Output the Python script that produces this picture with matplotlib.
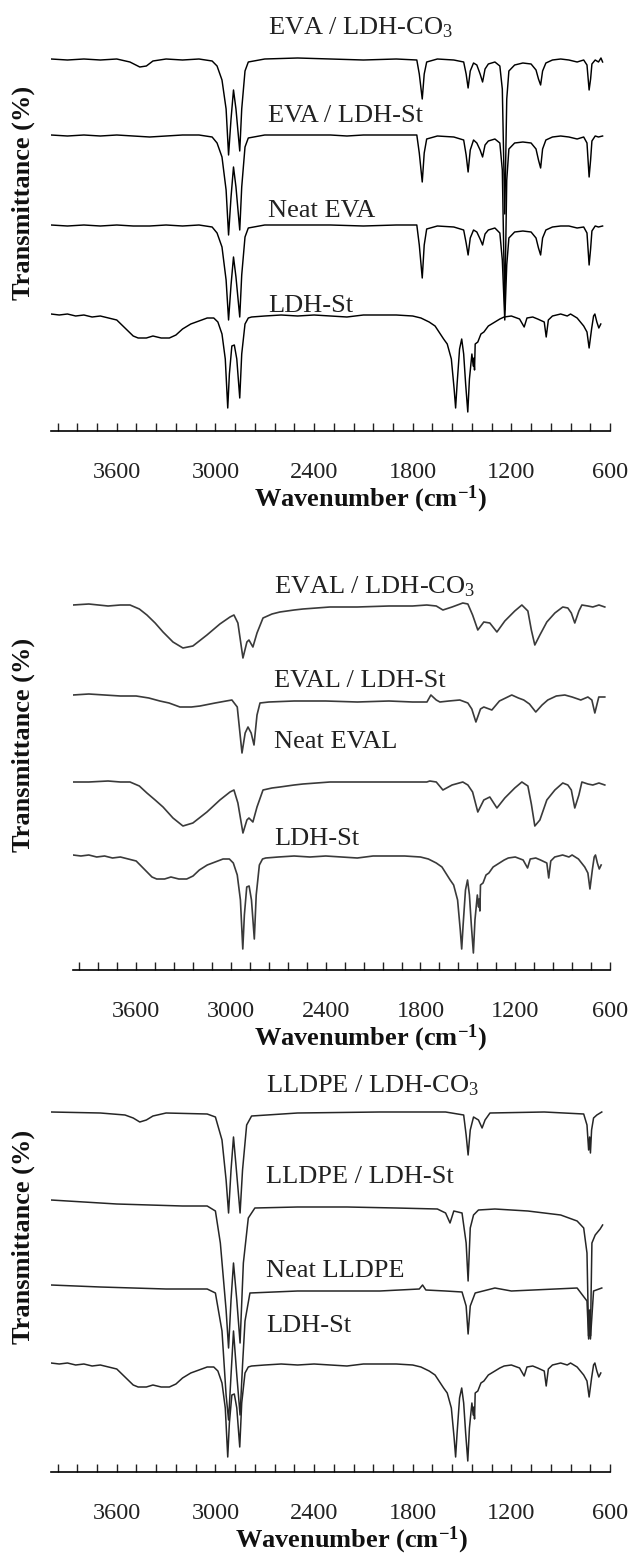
import numpy as np
import matplotlib
matplotlib.use("Agg")
import matplotlib.pyplot as plt
from matplotlib.ticker import FixedLocator, MultipleLocator

plt.rcParams['font.family'] = ['Liberation Serif', 'DejaVu Serif']
plt.rcParams['mathtext.default'] = 'regular'

# ---------------- spectra (wavenumber, relative transmittance a.u.) ----------------
# EVA / LDH-CO3
eva_co3_wn = [4000, 3900, 3800, 3700, 3600, 3520, 3460, 3420, 3380, 3300, 3200, 3100, 3020, 2990, 2960,
              2935, 2920, 2905, 2890, 2875, 2852, 2840, 2820, 2800, 2700, 2500, 2300, 2100, 1900, 1775,
              1760, 1742, 1730, 1715, 1650, 1550, 1490, 1475, 1463, 1450, 1430, 1410, 1390, 1375, 1360,
              1340, 1300, 1270, 1255, 1240, 1228, 1215, 1180, 1130, 1080, 1050, 1035, 1022, 1010, 990,
              950, 900, 850, 800, 760, 740, 727, 718, 710, 690, 670, 655, 645]
eva_co3_t = [0, -1, 0, -1, 0, -3, -8, -7, -2, 0, -1, 0, -2, -7, -21,
             -50, -96, -60, -31, -50, -92, -50, -12, -3, 0, 1, 0, -1, 0, -1,
             -15, -40, -15, -3, 0, -1, -3, -15, -29, -12, -4, -6, -15, -23, -10,
             -5, -3, -7, -30, -155, -40, -12, -6, -4, -5, -11, -20, -26, -12, -4,
             -1, 0, -1, -3, -1, -6, -31, -20, -5, -1, -3, 1, -3]

# EVA / LDH-St
eva_st_wn = [4000, 3900, 3800, 3700, 3600, 3500, 3400, 3300, 3200, 3100, 3020, 2990, 2960, 2935, 2920,
             2905, 2890, 2875, 2852, 2840, 2820, 2800, 2700, 2500, 2300, 2200, 2100, 1900, 1775, 1760,
             1742, 1730, 1715, 1650, 1550, 1490, 1475, 1463, 1450, 1430, 1410, 1390, 1375, 1360, 1340,
             1300, 1270, 1255, 1240, 1228, 1215, 1180, 1130, 1080, 1050, 1035, 1022, 1010, 990, 950,
             900, 850, 800, 760, 740, 727, 718, 710, 690, 670, 645]
eva_st_t = [0, -1, 0, -1, 0, -1, -2, -1, 0, 0, -2, -8, -22, -55, -100,
            -62, -32, -52, -95, -52, -12, -3, 0, 0, 0, -1, 0, 0, 0, -18,
            -47, -18, -4, -1, -2, -5, -20, -37, -15, -5, -8, -15, -22, -10, -6,
            -4, -8, -35, -175, -45, -14, -8, -7, -8, -14, -25, -33, -14, -5, -2,
            -1, -2, -4, -2, -8, -42, -25, -6, -1, -2, -1]

# Neat EVA
eva_wn = [4000, 3900, 3800, 3700, 3600, 3500, 3400, 3300, 3200, 3100, 3020, 2990, 2960, 2935, 2920,
          2905, 2890, 2875, 2852, 2840, 2820, 2800, 2700, 2500, 2300, 2100, 1900, 1775, 1760, 1742,
          1730, 1715, 1650, 1550, 1490, 1475, 1463, 1450, 1430, 1410, 1390, 1375, 1360, 1340, 1300,
          1270, 1255, 1240, 1228, 1215, 1180, 1130, 1080, 1050, 1035, 1022, 1010, 990, 950, 900,
          850, 800, 760, 740, 727, 718, 710, 690, 670, 645]
eva_t = [0, -1, 0, -1, 0, -1, -1, 0, -1, 0, -2, -8, -22, -55, -95,
         -60, -32, -52, -92, -50, -12, -3, 0, 0, 0, -1, 0, 0, -20,
         -53, -20, -4, -1, -2, -5, -18, -30, -13, -5, -7, -14, -20, -9, -5,
         -3, -8, -35, -95, -40, -13, -7, -6, -7, -13, -23, -30, -13, -5, -2,
         -1, -1, -3, -2, -8, -40, -24, -6, -1, -2, -1]

# LDH-St (shared by all three panels)
ldh_st_wn = [4000, 3950, 3900, 3850, 3800, 3750, 3700, 3650, 3600, 3550, 3500, 3470, 3420, 3380, 3330,
             3280, 3240, 3200, 3150, 3100, 3050, 3010, 2985, 2960, 2940, 2925, 2915, 2900, 2885, 2870,
             2852, 2840, 2820, 2800, 2780, 2700, 2600, 2500, 2400, 2300, 2200, 2100, 2000, 1900, 1800,
             1750, 1700, 1664, 1640, 1612, 1590, 1565, 1548, 1539, 1530, 1515, 1502, 1490, 1478, 1465,
             1455, 1440, 1432, 1428, 1424, 1420, 1404, 1385, 1367, 1340, 1300, 1270, 1244, 1200, 1150,
             1122, 1105, 1070, 1040, 1000, 988, 975, 950, 900, 860, 840, 800, 780, 760, 740,
             727, 712, 700, 692, 680, 668, 656]
ldh_st_t = [0, -1, 0, -2, -1, -3, -2, -4, -6, -14, -22, -24, -24, -22, -24,
            -24, -21, -15, -10, -7, -4, -4, -8, -20, -45, -94, -60, -32, -31, -45,
            -84, -40, -10, -4, -3, -2, -1, -2, -1, -2, -3, -1, -1, -1, -2,
            -4, -8, -12, -18, -25, -30, -45, -75, -94, -70, -35, -25, -40, -70, -98,
            -65, -40, -52, -44, -56, -30, -28, -20, -18, -12, -8, -5, -3, -2, -5,
            -13, -4, -3, -5, -8, -23, -6, -2, 0, -2, 0, -4, -8, -12, -18,
            -34, -15, -2, 0, -8, -14, -10]

# EVAL / LDH-CO3
eval_co3_wn = [4000, 3900, 3778, 3700, 3639, 3580, 3532, 3480, 3430, 3367, 3304, 3241, 3152, 3070, 3006,
               2981, 2956, 2924, 2899, 2886, 2861, 2835, 2797, 2740, 2690, 2600, 2544, 2373, 2200, 2000,
               1850, 1760, 1700, 1658, 1600, 1532, 1500, 1470, 1437, 1399, 1361, 1316, 1266, 1203, 1158,
               1120, 1098, 1076, 1044, 1000, 949, 899, 867, 845, 823, 797, 778, 740, 709, 670, 633]
eval_co3_t = [0, 1, -1, 0, 0, -4, -10, -18, -27, -37, -43, -41, -30, -19, -12,
              -10, -18, -53, -37, -35, -42, -28, -13, -9, -7, -5, -4, -2, -2, -1,
              -1, 0, -1, -5, -2, 2, 1, -10, -25, -17, -18, -27, -16, -6, 0,
              -6, -25, -40, -30, -17, -8, -2, -3, -8, -18, -6, 0, -1, -2, 0, -2]

# EVAL / LDH-St
eval_st_wn = [4000, 3900, 3800, 3700, 3600, 3520, 3450, 3392, 3323, 3250, 3196, 3100, 3030, 2994, 2960,
              2930, 2910, 2892, 2872, 2854, 2835, 2816, 2760, 2600, 2400, 2200, 2000, 1850, 1759, 1734,
              1700, 1677, 1620, 1551, 1500, 1475, 1449, 1420, 1399, 1348, 1300, 1222, 1180, 1146, 1110,
              1070, 1030, 994, 940, 886, 840, 785, 740, 715, 696, 671, 633]
eval_st_t = [0, 1, 0, -1, -1, -3, -6, -8, -12, -12, -11, -8, -6, -5, -12,
             -58, -38, -32, -38, -50, -20, -8, -7, -6, -6, -7, -6, -7, -7, 0,
             -5, -7, -6, -5, -8, -14, -27, -14, -12, -15, -6, 0, -3, -5, -9,
             -17, -10, -5, -1, 0, -2, -5, -2, -5, -18, -2, -2]

# Neat EVAL
eval_wn = [4000, 3900, 3778, 3700, 3639, 3580, 3532, 3480, 3430, 3367, 3304, 3241, 3152, 3070, 3006,
           2981, 2956, 2924, 2899, 2886, 2861, 2835, 2797, 2740, 2690, 2600, 2544, 2373, 2200, 2000,
           1850, 1760, 1741, 1700, 1658, 1600, 1532, 1500, 1470, 1437, 1399, 1361, 1316, 1266, 1203,
           1158, 1120, 1098, 1076, 1044, 1000, 949, 899, 867, 845, 823, 797, 778, 740, 709, 670, 633]
eval_t = [0, 0, 1, 0, 0, -4, -11, -18, -25, -36, -44, -41, -30, -18, -10,
          -8, -21, -51, -38, -36, -40, -25, -8, -6, -5, -3, -2, 0, 0, 0,
          0, 0, 1, 0, -8, -3, 0, -3, -10, -30, -18, -15, -26, -16, -6,
          0, -4, -22, -44, -38, -18, -8, -1, -3, -8, -26, -13, 0, -2, -3, -1, -3]

# LLDPE / LDH-CO3
lldpe_co3_wn = [4000, 3700, 3550, 3500, 3460, 3420, 3380, 3300, 3050, 3000, 2960, 2935, 2920, 2905, 2890,
                2875, 2850, 2835, 2810, 2780, 2500, 2000, 1600, 1490, 1475, 1463, 1450, 1430, 1400, 1378,
                1360, 1330, 1000, 760, 740, 730, 724, 719, 712, 700, 680, 650]
lldpe_co3_t = [0, -1, -3, -6, -10, -8, -4, -1, -2, -5, -28, -68, -101, -58, -25,
               -53, -101, -58, -13, -4, -1, 0, 0, -3, -23, -43, -18, -5, -8, -16,
               -8, -1, 0, -2, -13, -38, -25, -41, -18, -6, -3, 0]

# LLDPE / LDH-St
lldpe_st_wn = [4000, 3800, 3600, 3400, 3200, 3050, 3000, 2970, 2935, 2920, 2905, 2890, 2870, 2850, 2830,
               2800, 2760, 2500, 2200, 1900, 1650, 1600, 1573, 1550, 1500, 1475, 1463, 1450, 1430, 1400,
               1300, 1100, 900, 800, 760, 740, 730, 724, 719, 710, 690, 660, 645]
lldpe_st_t = [0, -2, -4, -5, -6, -6, -11, -43, -110, -148, -100, -63, -100, -143, -63,
              -18, -8, -7, -7, -8, -9, -13, -23, -11, -13, -43, -81, -28, -15, -10,
              -9, -11, -15, -21, -28, -53, -136, -110, -136, -43, -35, -29, -25]

# Neat LLDPE
lldpe_wn = [4000, 3700, 3500, 3300, 3050, 3000, 2960, 2935, 2920, 2905, 2890, 2870, 2850, 2835, 2820,
            2790, 2500, 2000, 1760, 1740, 1720, 1600, 1500, 1475, 1463, 1450, 1420, 1300, 1200, 800,
            740, 730, 724, 719, 700, 650]
lldpe_t = [0, -2, -3, -4, -4, -8, -46, -110, -135, -90, -46, -90, -130, -80, -36,
           -8, -6, -6, -4, 0, -5, -6, -7, -21, -49, -21, -8, -3, -6, -3,
           -16, -54, -30, -54, -6, -3]

# ---------------- layout (figure pixels: axis line, top of panel, left, right) ----------------
W, H = 632, 1553
fig = plt.figure(figsize=(W / 100, H / 100), dpi=100)

panels = [
    dict(bottom=431, top=0, left=51, right=610, color='#000000', lw=1.05,
         traces=[(eva_co3_wn, eva_co3_t, 372), (eva_st_wn, eva_st_t, 296),
                 (eva_wn, eva_t, 206), (ldh_st_wn, ldh_st_t, 117)],
         labels=[('EVA / LDH-CO$_3$', 397), ('EVA / LDH-St', 309),
                 ('Neat EVA', 214), ('LDH-St', 119)],
         label_wn=2680, ylab_center=193, xlab_x=0.572),
    dict(bottom=970, top=540, left=73, right=610, color='#3a3a3a', lw=1.2,
         traces=[(eval_co3_wn, eval_co3_t, 365), (eval_st_wn, eval_st_t, 275),
                 (eval_wn, eval_t, 188), (ldh_st_wn, ldh_st_t, 115)],
         labels=[('EVAL / LDH-CO$_3$', 377), ('EVAL / LDH-St', 283),
                 ('Neat EVAL', 222), ('LDH-St', 125)],
         label_wn=2728, ylab_center=745, xlab_x=0.555),
    dict(bottom=1472, top=1040, left=51, right=610, color='#262626', lw=1.1,
         traces=[(lldpe_co3_wn, lldpe_co3_t, 360), (lldpe_st_wn, lldpe_st_t, 272),
                 (lldpe_wn, lldpe_t, 187), (ldh_st_wn, ldh_st_t, 109)],
         labels=[('LLDPE / LDH-CO$_3$', 380), ('LLDPE / LDH-St', 289),
                 ('Neat LLDPE', 195), ('LDH-St', 140)],
         label_wn=2692, ylab_center=1237, xlab_x=0.537),
]

major_ticks = [3600, 3000, 2400, 1800, 1200, 600]

for p in panels:
    ax = fig.add_axes([p['left'] / W, 1 - p['bottom'] / H,
                       (p['right'] - p['left']) / W, (p['bottom'] - p['top']) / H])
    ax.set_facecolor('none')
    for wn, t, off in p['traces']:
        ax.plot(wn, np.asarray(t) + off, color=p['color'], lw=p['lw'], solid_joinstyle='round')
    for text, y in p['labels']:
        ax.text(p['label_wn'], y, text, fontsize=19, color='#222222',
                ha='left', va='baseline')
    ax.set_xlim(4000, 600)
    ax.set_ylim(0, p['bottom'] - p['top'])
    for s in ('left', 'right', 'top'):
        ax.spines[s].set_visible(False)
    ax.spines['bottom'].set_linewidth(1.2)
    ax.set_yticks([])
    ax.xaxis.set_major_locator(FixedLocator(major_ticks))
    ax.xaxis.set_minor_locator(MultipleLocator(120))
    ax.tick_params(axis='x', which='both', direction='in', length=5.5, width=1.0,
                   labelsize=17.5, pad=22, colors='#222222')
    ax.set_xlabel('Wavenumber (cm$^{-1}$)', fontsize=19, fontweight='bold',
                  color='#111111')
    ax.xaxis.label.set_verticalalignment('top')
    fig.text(23 / W, 1 - p['ylab_center'] / H, 'Transmittance (%)', rotation=90,
             fontsize=19, fontweight='bold', ha='center', va='center', color='#111111')

# place each x label just under its tick labels
fig.canvas.draw()
for ax, p in zip(fig.axes, panels):
    tl = [t.get_window_extent() for t in ax.get_xticklabels() if t.get_text()]
    bottom_px = min(b.y0 for b in tl)
    y_ax = ax.transAxes.inverted().transform((0, bottom_px - 1))[1]
    ax.xaxis.set_label_coords(p['xlab_x'], y_ax)

fig.savefig('out.png', dpi=100)
